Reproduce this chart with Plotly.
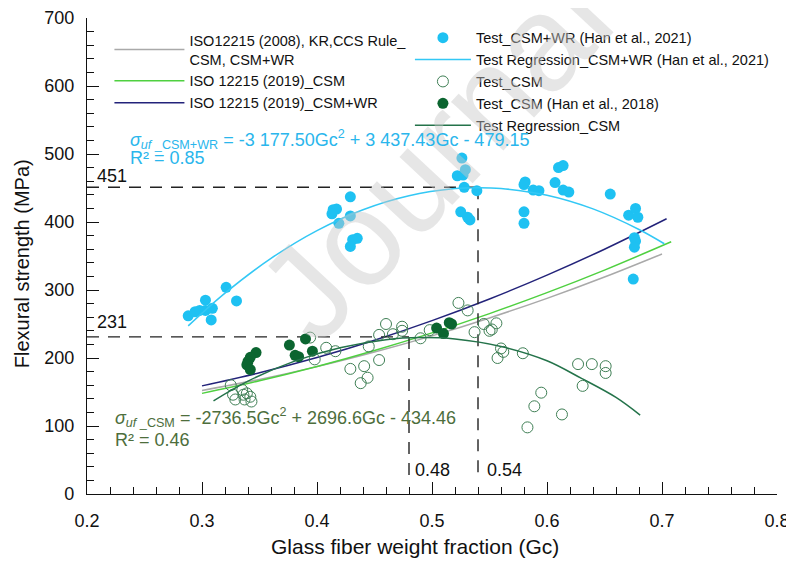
import plotly.graph_objects as go

# ---------------- data ----------------
# Test_CSM+WR (Han et al., 2021)
wr_x = [0.288, 0.294, 0.298, 0.303, 0.303, 0.309, 0.308, 0.321, 0.330,
        0.429, 0.414, 0.417, 0.413, 0.419, 0.429, 0.435, 0.431, 0.429,
        0.526, 0.529, 0.522, 0.527, 0.528, 0.539, 0.525, 0.531, 0.533,
        0.581, 0.580, 0.588, 0.593, 0.580, 0.580,
        0.610, 0.614, 0.607, 0.614, 0.619, 0.655,
        0.671, 0.677, 0.679, 0.676, 0.677, 0.676, 0.675]
wr_y = [262, 268, 270, 285, 270, 273, 256, 304, 284,
        437, 418, 419, 412, 398, 409, 376, 374, 364,
        494, 477, 468, 469, 451, 446, 415, 407, 403,
        459, 455, 447, 446, 415, 398,
        480, 483, 458, 447, 444, 441,
        410, 420, 407, 377, 372, 363, 316]

# Test_CSM (open)
csm_x = [0.325, 0.327, 0.329, 0.335, 0.336, 0.339, 0.342, 0.343, 0.337,
         0.394, 0.398, 0.408, 0.416, 0.429, 0.441, 0.444, 0.438, 0.445,
         0.454, 0.454, 0.460, 0.466, 0.474, 0.474, 0.490, 0.498, 0.523,
         0.531, 0.537, 0.545, 0.550, 0.552, 0.556, 0.560, 0.562, 0.557,
         0.579, 0.627, 0.639, 0.651, 0.651, 0.631, 0.595, 0.589, 0.613, 0.583]
csm_y = [160, 146, 139, 153, 146, 148, 143, 136, 139,
         230, 198, 215, 210, 184, 188, 171, 163, 217,
         197, 234, 250, 235, 246, 240, 229, 241, 281,
         270, 238, 250, 240, 242, 251, 214, 209, 200,
         207, 191, 191, 188, 178, 159, 149, 129, 117, 98]

# Test_CSM (Han et al., 2018)
han18_x = [0.347, 0.342, 0.340, 0.339, 0.342, 0.376, 0.381, 0.384, 0.390,
           0.396, 0.504, 0.510, 0.515, 0.517]
han18_y = [208, 201, 195, 190, 183, 219, 204, 202, 228,
           210, 244, 236, 252, 250]

# Test Regression_CSM+WR
regwr_x = [0.288, 0.32, 0.36, 0.40, 0.44, 0.48, 0.52, 0.54, 0.56, 0.60, 0.64, 0.68, 0.702]
regwr_y = [247.2, 295.4, 346.5, 387.4, 418.1, 438.7, 449.1, 450.5, 449.3, 439.4, 419.3, 389.0, 368.0]

# Test Regression_CSM
regcsm_x = [0.31, 0.34, 0.38, 0.42, 0.46, 0.49, 0.52, 0.56, 0.60, 0.63, 0.66, 0.681]
regcsm_y = [137, 166, 195, 215, 227, 230, 228, 217, 196, 170, 142, 116]

# ISO curves
iso_x = [0.30, 0.35, 0.40, 0.45, 0.50, 0.55, 0.60, 0.65, 0.70]
iso2008_y = [152.2, 168.5, 187.3, 208.7, 232.5, 258.9, 287.7, 319.1, 353.0]
iso2019csm_x = [0.30, 0.35, 0.40, 0.45, 0.50, 0.55, 0.60, 0.65, 0.708]
iso2019csm_y = [148.0, 166.6, 187.6, 211.1, 237.0, 265.3, 296.1, 329.3, 370.9]
iso2019wr_x = [0.30, 0.35, 0.40, 0.45, 0.50, 0.55, 0.60, 0.65, 0.704]
iso2019wr_y = [159.0, 178.3, 200.7, 226.2, 255.0, 286.8, 321.9, 360.0, 404.8]

# reference marks
peak_wr_y, peak_wr_x = 451, 0.54
peak_csm_y, peak_csm_x = 231, 0.48

FONT = "Arial, Liberation Sans, sans-serif"
CYAN = "#1EC1F2"
CYAN_LINE = "#33C8F5"
DKGREEN = "#0B6530"
OPEN_GREEN = "#3F7F55"
REG_GREEN = "#24734A"
EQ_CYAN = "#2AB6EC"
EQ_GREEN = "#4D6E3C"

fig = go.Figure()

# ISO lines (legend 1)
fig.add_trace(go.Scatter(x=iso_x, y=iso2008_y, mode="lines", line=dict(color="#A9A9A9", width=1.5, shape="spline"),
                         name="ISO12215 (2008), KR,CCS Rule_<br>CSM, CSM+WR", legend="legend"))
fig.add_trace(go.Scatter(x=iso2019csm_x, y=iso2019csm_y, mode="lines", line=dict(color="#4FD040", width=1.5, shape="spline"),
                         name="ISO 12215 (2019)_CSM", legend="legend"))
fig.add_trace(go.Scatter(x=iso2019wr_x, y=iso2019wr_y, mode="lines", line=dict(color="#23237A", width=1.5, shape="spline"),
                         name="ISO 12215 (2019)_CSM+WR", legend="legend"))

# dashed guide lines
dash_style = dict(color="#222222", width=1.4, dash="12px,9px")
fig.add_trace(go.Scatter(x=[0.2, peak_wr_x], y=[peak_wr_y, peak_wr_y], mode="lines", line=dash_style,
                         showlegend=False, hoverinfo="skip"))
fig.add_trace(go.Scatter(x=[peak_wr_x, peak_wr_x], y=[peak_wr_y, 22], mode="lines", line=dash_style,
                         showlegend=False, hoverinfo="skip"))
fig.add_trace(go.Scatter(x=[0.2, peak_csm_x], y=[peak_csm_y, peak_csm_y], mode="lines", line=dash_style,
                         showlegend=False, hoverinfo="skip"))
fig.add_trace(go.Scatter(x=[peak_csm_x, peak_csm_x], y=[peak_csm_y, 22], mode="lines", line=dash_style,
                         showlegend=False, hoverinfo="skip"))

# Test data (legend 2)
fig.add_trace(go.Scatter(x=wr_x, y=wr_y, mode="markers",
                         marker=dict(color=CYAN, size=11, line=dict(width=0)),
                         name="Test_CSM+WR (Han et al., 2021)", legend="legend2"))
fig.add_trace(go.Scatter(x=regwr_x, y=regwr_y, mode="lines", line=dict(color=CYAN_LINE, width=1.5, shape="spline"),
                         name="Test Regression_CSM+WR (Han et al., 2021)", legend="legend2"))
fig.add_trace(go.Scatter(x=csm_x, y=csm_y, mode="markers",
                         marker=dict(color="rgba(0,0,0,0)", size=11, line=dict(color=OPEN_GREEN, width=1)),
                         name="Test_CSM", legend="legend2"))
fig.add_trace(go.Scatter(x=han18_x, y=han18_y, mode="markers",
                         marker=dict(color=DKGREEN, size=11, line=dict(width=0)),
                         name="Test_CSM (Han et al., 2018)", legend="legend2"))
fig.add_trace(go.Scatter(x=regcsm_x, y=regcsm_y, mode="lines", line=dict(color=REG_GREEN, width=1.5, shape="spline"),
                         name="Test Regression_CSM", legend="legend2"))

annotations = [
    dict(text="Journal", x=0.504, y=0.712, xref="paper", yref="paper", showarrow=False,
         xanchor="center", yanchor="middle",
         textangle=-47, font=dict(family=FONT, size=135, color="rgba(200,200,200,0.45)")),
    dict(text="451", x=0.207, y=468, xref="x", yref="y", showarrow=False, xanchor="left", yanchor="middle",
         font=dict(family=FONT, size=18, color="#111111")),
    dict(text="231", x=0.207, y=253, xref="x", yref="y", showarrow=False, xanchor="left", yanchor="middle",
         font=dict(family=FONT, size=18, color="#111111")),
    dict(text="0.48", x=0.4835, y=35, xref="x", yref="y", showarrow=False, xanchor="left", yanchor="middle",
         font=dict(family=FONT, size=18, color="#111111")),
    dict(text="0.54", x=0.546, y=35, xref="x", yref="y", showarrow=False, xanchor="left", yanchor="middle",
         font=dict(family=FONT, size=18, color="#111111")),
    dict(text="<i>σ<sub>uf</sub></i><sub> _CSM+WR</sub> = -3 177.50Gc<sup>2</sup> + 3 437.43Gc - 479.15",
         x=0.2357, y=521, xref="x", yref="y", showarrow=False, xanchor="left", yanchor="middle",
         font=dict(family=FONT, size=18, color=EQ_CYAN)),
    dict(text="R² = 0.85", x=0.2357, y=494, xref="x", yref="y", showarrow=False, xanchor="left", yanchor="middle",
         font=dict(family=FONT, size=18, color=EQ_CYAN)),
    dict(text="<i>σ<sub>uf</sub></i><sub> _CSM</sub> = -2736.5Gc<sup>2</sup> + 2696.6Gc - 434.46",
         x=0.2226, y=113, xref="x", yref="y", showarrow=False, xanchor="left", yanchor="middle",
         font=dict(family=FONT, size=18, color=EQ_GREEN)),
    dict(text="R² = 0.46", x=0.2226, y=80, xref="x", yref="y", showarrow=False, xanchor="left", yanchor="middle",
         font=dict(family=FONT, size=18, color=EQ_GREEN)),
    # axis titles
    dict(text="Flexural strength (MPa)", x=-0.094, y=0.483, xref="paper", yref="paper", showarrow=False,
         xanchor="center", yanchor="middle", textangle=-90, font=dict(family=FONT, size=20, color="#111111")),
    dict(text="Glass fiber weight fraction (Gc)", x=0.475, y=-0.111, xref="paper", yref="paper", showarrow=False,
         xanchor="center", yanchor="middle", font=dict(family=FONT, size=21, color="#111111")),
]

# the page body adds an 8px offset; the figure is sized to fill the rest of the window
fig.update_layout(
    width=786, height=557,
    margin=dict(l=79, r=17, t=10, b=71, autoexpand=False),
    paper_bgcolor="white", plot_bgcolor="white",
    font=dict(family=FONT, size=18, color="#111111"),
    annotations=annotations,
    legend=dict(x=0.0325, y=0.987, xanchor="left", yanchor="top", bgcolor="rgba(0,0,0,0)",
                font=dict(family=FONT, size=14.5, color="#111111"), itemwidth=70, tracegroupgap=0),
    legend2=dict(x=0.468, y=0.992, xanchor="left", yanchor="top", bgcolor="rgba(0,0,0,0)",
                 font=dict(family=FONT, size=14.5, color="#111111"), itemwidth=56, tracegroupgap=0),
    xaxis=dict(range=[0.2, 0.8], dtick=0.1, tick0=0.2, tickformat=".1f", automargin=False,
               showline=True, linecolor="#111111", linewidth=1.2, mirror=False,
               ticks="inside", ticklen=12, tickcolor="#111111", tickwidth=1.2,
               minor=dict(ticks="inside", dtick=0.02, ticklen=7, tickcolor="#111111", tickwidth=1),
               showgrid=False, zeroline=False, ticklabelstandoff=10,
               tickfont=dict(size=18)),
    yaxis=dict(range=[0, 700], dtick=100, automargin=False,
               showline=True, linecolor="#111111", linewidth=1.2,
               ticks="inside", ticklen=12, tickcolor="#111111", tickwidth=1.2,
               minor=dict(ticks="inside", dtick=20, ticklen=7, tickcolor="#111111", tickwidth=1),
               showgrid=False, zeroline=False, ticklabelstandoff=8,
               tickfont=dict(size=18)),
)

fig.write_html("out.html")
